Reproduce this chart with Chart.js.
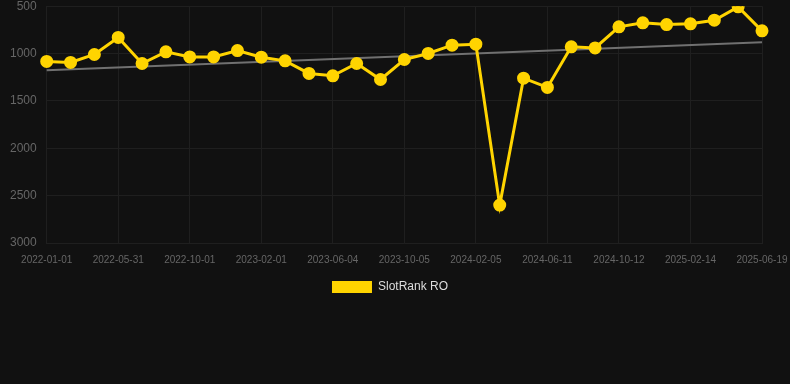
<!DOCTYPE html>
<html>
<head>
<meta charset="utf-8">
<script src="https://cdn.jsdelivr.net/npm/chart.js@4/dist/chart.umd.min.js"></script>
<style>
  html, body { margin: 0; padding: 0; background: #111111; overflow: hidden; }
  #wrap { width: 790px; height: 314px; position: relative; margin-top: -11px; }
</style>
</head>
<body>
<div id="wrap"><canvas id="myChart"></canvas></div>
<script>
var labels = [
  '2022-01-01', '2022-02-17', '2022-04-09', '2022-05-31', '2022-07-11', '2022-08-21',
  '2022-10-01', '2022-11-11', '2022-12-22', '2023-02-01', '2023-03-15', '2023-04-24',
  '2023-06-04', '2023-07-15', '2023-08-25', '2023-10-05', '2023-11-15', '2023-12-26',
  '2024-02-05', '2024-03-18', '2024-04-30', '2024-06-11', '2024-07-22', '2024-09-01',
  '2024-10-12', '2024-11-22', '2025-01-03', '2025-02-14', '2025-03-27', '2025-05-08',
  '2025-06-19'
];
var rankValues = [
  1083, 1094, 1010, 830, 1105, 982,
  1035, 1035, 968, 1038, 1077, 1210,
  1235, 1105, 1274, 1063, 999, 911,
  901, 2600, 1260, 1358, 929, 940,
  718, 676, 694, 686, 648, 507,
  760
];
var trendStart = 1175;
var trendEnd = 880;

var trendValues = labels.map(function (l, i) {
  if (i === 0) return trendStart;
  if (i === labels.length - 1) return trendEnd;
  return null;
});

var font = 'Arial, "Liberation Sans", sans-serif';

var ctx = document.getElementById('myChart').getContext('2d');
new Chart(ctx, {
  type: 'line',
  data: {
    labels: labels,
    datasets: [{
      label: 'SlotRank RO',
      data: rankValues,
      borderColor: '#ffd400',
      backgroundColor: '#ffd400',
      borderWidth: 3,
      pointRadius: 5,
      pointHoverRadius: 6,
      tension: 0
    }, {
      label: 'trend',
      data: trendValues,
      borderColor: '#707070',
      borderWidth: 2,
      pointRadius: 0,
      spanGaps: true,
      fill: false
    }]
  },
  options: {
    responsive: true,
    maintainAspectRatio: false,
    animation: false,
    layout: { padding: { top: 0, right: 10, left: 0, bottom: 0 } },
    scales: {
      x: {
        grid: { color: '#1f1f1f', drawTicks: false },
        border: { color: '#1f1f1f' },
        ticks: {
          color: '#666666',
          font: { size: 10, family: font },
          maxRotation: 0,
          autoSkip: true,
          maxTicksLimit: 11,
          padding: 11
        },
        afterFit: function (scale) { scale.paddingRight = 28; }
      },
      y: {
        reverse: true,
        min: 500,
        max: 3000,
        grid: { color: '#1f1f1f', drawTicks: false },
        border: { color: '#1f1f1f' },
        ticks: {
          stepSize: 500,
          color: '#666666',
          font: { size: 12, family: font },
          padding: 10,
          callback: function (v) { return String(v); }
        }
      }
    },
    plugins: {
      legend: {
        position: 'bottom',
        labels: {
          color: '#dddddd',
          boxWidth: 40,
          boxHeight: 12,
          padding: 4,
          font: { size: 12, family: font },
          filter: function (item) { return item.text !== 'trend'; },
          generateLabels: function (chart) {
            var items = Chart.defaults.plugins.legend.labels.generateLabels(chart);
            items.forEach(function (it) { it.lineWidth = 0; });
            return items;
          }
        }
      },
      tooltip: { enabled: false }
    }
  }
});
</script>
</body>
</html>
